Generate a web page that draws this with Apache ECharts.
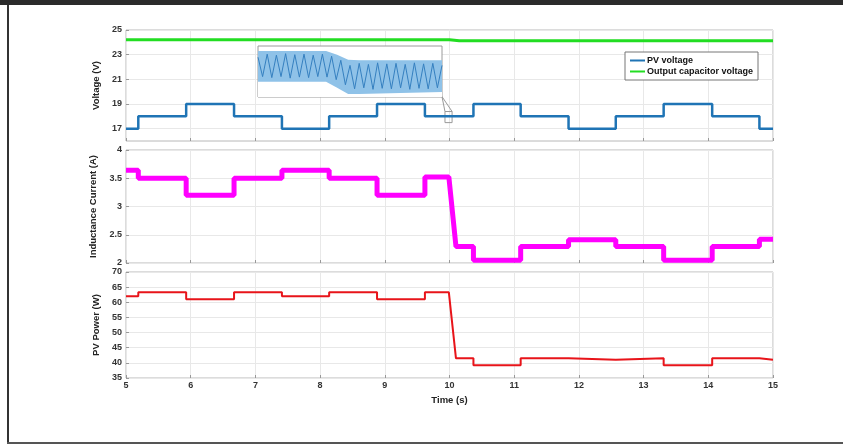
<!DOCTYPE html>
<html><head><meta charset="utf-8">
<script src="https://cdn.jsdelivr.net/npm/echarts@6/dist/echarts.min.js"></script>
<style>
html,body{margin:0;padding:0;background:#fff;}
#c{position:absolute;left:0;top:0;width:843px;height:444px;}
.fr{position:absolute;background:#333;}
</style></head>
<body>
<div id="c"></div>
<div class="fr" style="left:0;top:0;width:843px;height:5px;background:#2b2b2b"></div>
<div class="fr" style="left:7px;top:5px;width:2px;height:439px;background:#333"></div>
<div class="fr" style="left:7px;top:442px;width:836px;height:2px;background:#555"></div>
<script>
// ---- data ----
var voltStart = [5, 5.19, 5.93, 6.67, 7.41, 8.14, 8.88, 9.62, 10.37, 11.10, 11.84, 12.57, 13.31, 14.06, 14.79];
var voltEnd   = [5.19, 5.93, 6.67, 7.41, 8.14, 8.88, 9.62, 10.37, 11.10, 11.84, 12.57, 13.31, 14.06, 14.79, 15];
var pvVoltage = [17, 18, 19, 18, 17, 18, 19, 18, 19, 18, 17, 18, 19, 18, 17];

var outTime = [5, 10, 10.15, 15];
var outVoltage = [24.2, 24.2, 24.12, 24.12];

var segStart = [5, 5.19, 5.93, 6.67, 7.41, 8.14, 8.88, 9.62, 10.1, 10.37, 11.10, 11.84, 12.57, 13.31, 14.06, 14.79];
var segEnd   = [5.19, 5.93, 6.67, 7.41, 8.14, 8.88, 9.62, 9.99, 10.37, 11.10, 11.84, 12.57, 13.31, 14.06, 14.79, 15];
var inductorCurrent = [3.64, 3.5, 3.2, 3.5, 3.64, 3.5, 3.2, 3.52, 2.29, 2.05, 2.29, 2.41, 2.29, 2.05, 2.29, 2.42];
var pvPower = [62, 63.3, 61, 63.3, 62, 63.3, 61, 63.3, 41.5, 39.2, 41.5, 41.0, 41.5, 39.2, 41.5, 41.0];

var voltTicks = [17, 19, 21, 23, 25];

// inset (zoomed ripple detail), arbitrary relative units
var insetX = [0,2.5,5,7.5,10,12.5,15,17.5,20,22.5,25,27.5,30,32.5,35,37.5,40,42.5,45,47.5,50,52.5,55,57.5,60,62.5,65,67.5,70,72.5,75,77.5,80,82.5,85,87.5,90,92.5,95,97.5,100];
var insetRipple = [78,40,84,38,82,40,85,37,83,39,84,38,82,40,84,39,80,34,72,24,62,16,66,18,64,15,67,17,65,16,66,18,64,15,67,17,65,16,66,18,62];
var bandX = [0, 37, 43, 49, 55, 100];
var bandHigh = [90, 90, 83, 73, 72, 72];
var bandLow = [30, 30, 18, 6, 6, 10];

// zoom box on PV voltage (time, volts)
var zoomBox = [[9.93, 18.39], [10.04, 17.49]];
var connFrom = [9.884, 19.6];

// ---- build ----
function segs(s, e, v) {
  var out = [];
  for (var i = 0; i < v.length; i++) { out.push([s[i], v[i]]); out.push([e[i], v[i]]); }
  return out;
}
function pairs(x, y) { return x.map(function (t, i) { return [t, y[i]]; }); }

var FONT = '"Liberation Sans", Arial, sans-serif';
var lbl = { fontFamily: FONT, fontSize: 9, fontWeight: 'bold', color: '#333', margin: 4 };
var nameStyle = { fontFamily: FONT, fontSize: 9.5, fontWeight: 'bold', color: '#222' };
var split = { show: true, lineStyle: { color: '#e8e8e8', width: 1 } };
var tick = { show: true, inside: true, length: 3, lineStyle: { color: '#999' } };

function xAx(idx, showLabel) {
  return {
    type: 'value', gridIndex: idx, min: 5, max: 15, interval: 1,
    axisLine: { show: false }, axisTick: tick, splitLine: split,
    axisLabel: Object.assign({ show: showLabel }, lbl, { margin: 3 }),
    name: showLabel ? 'Time (s)' : '', nameLocation: 'middle', nameGap: 17, nameTextStyle: nameStyle
  };
}
function yAx(idx, o) {
  return Object.assign({
    type: 'value', gridIndex: idx,
    axisLine: { show: false }, axisTick: tick, splitLine: split,
    axisLabel: lbl, nameLocation: 'middle', nameRotate: 90, nameTextStyle: nameStyle
  }, o);
}

var gridBase = { left: 126, width: 647, show: true, borderColor: '#b8b8b8', borderWidth: 1, backgroundColor: 'transparent' };

var option = {
  animation: false,
  backgroundColor: '#fff',
  grid: [
    Object.assign({ top: 30, height: 111 }, gridBase),
    Object.assign({ top: 150, height: 113 }, gridBase),
    Object.assign({ top: 272, height: 106 }, gridBase),
    { left: 258, top: 46, width: 184, height: 51, show: true, borderColor: '#9a9a9a', borderWidth: 1, backgroundColor: '#fff', z: 3 }
  ],
  legend: {
    data: ['PV voltage', 'Output capacitor voltage'],
    orient: 'vertical', left: 625, top: 52, itemGap: 2,
    padding: [4, 5, 4, 5], borderColor: '#777', borderWidth: 1, backgroundColor: '#fff',
    icon: 'rect', itemWidth: 15, itemHeight: 2,
    textStyle: { fontFamily: FONT, fontSize: 9, fontWeight: 'bold', color: '#111', padding: [0, 0, 0, -3] },
    z: 10
  },
  xAxis: [
    xAx(0, false), xAx(1, false), xAx(2, true),
    { type: 'value', gridIndex: 3, min: 0, max: 100, show: false }
  ],
  yAxis: [
    yAx(0, { min: 16, max: 25, name: 'Voltage (V)', nameGap: 25,
      axisTick: Object.assign({ customValues: voltTicks }, tick),
      axisLabel: Object.assign({ customValues: voltTicks }, lbl) }),
    yAx(1, { min: 2, max: 4, interval: 0.5, name: 'Inductance Current (A)', nameGap: 24 }),
    yAx(2, { min: 35, max: 70, interval: 5, name: 'PV Power (W)', nameGap: 25 }),
    { type: 'value', gridIndex: 3, min: 0, max: 100, show: false }
  ],
  series: [
    { name: 'PV voltage', type: 'line', xAxisIndex: 0, yAxisIndex: 0, showSymbol: false,
      data: segs(voltStart, voltEnd, pvVoltage), lineStyle: { color: '#1f74b5', width: 2.5 }, itemStyle: { color: '#1f74b5' },
      markArea: { silent: true, itemStyle: { color: 'rgba(0,0,0,0)', borderColor: '#999', borderWidth: 1 },
        data: [[{ coord: zoomBox[0] }, { coord: zoomBox[1] }]] },
      markLine: { silent: true, symbol: 'none', label: { show: false }, lineStyle: { color: '#999', width: 1, type: 'solid' },
        data: [
          [{ coord: connFrom }, { coord: [zoomBox[0][0], zoomBox[0][1]] }],
          [{ coord: connFrom }, { coord: [zoomBox[1][0], zoomBox[0][1]] }]
        ] } },
    { name: 'Output capacitor voltage', type: 'line', xAxisIndex: 0, yAxisIndex: 0, showSymbol: false,
      data: pairs(outTime, outVoltage), lineStyle: { color: '#22dd22', width: 3 }, itemStyle: { color: '#22dd22' } },
    { name: 'Inductance Current', type: 'line', xAxisIndex: 1, yAxisIndex: 1, showSymbol: false,
      data: segs(segStart, segEnd, inductorCurrent), lineStyle: { color: '#ff00ff', width: 5 } },
    { name: 'PV Power', type: 'line', xAxisIndex: 2, yAxisIndex: 2, showSymbol: false,
      data: segs(segStart, segEnd, pvPower), lineStyle: { color: '#e8141a', width: 2 } },
    { name: 'insetHigh', type: 'line', xAxisIndex: 3, yAxisIndex: 3, showSymbol: false, z: 4,
      data: pairs(bandX, bandHigh), lineStyle: { width: 0 }, areaStyle: { color: '#8fc2e8', opacity: 1, origin: 'start' } },
    { name: 'insetLow', type: 'line', xAxisIndex: 3, yAxisIndex: 3, showSymbol: false, z: 5,
      data: pairs(bandX, bandLow), lineStyle: { width: 0 }, areaStyle: { color: '#ffffff', opacity: 1, origin: 'start' } },
    { name: 'insetRipple', type: 'line', xAxisIndex: 3, yAxisIndex: 3, showSymbol: false, z: 6,
      data: pairs(insetX, insetRipple), lineStyle: { color: '#3580c0', width: 1 } }
  ]
};
var chart = echarts.init(document.getElementById('c'), null, { renderer: 'canvas' });
chart.setOption(option);
</script>
</body></html>
